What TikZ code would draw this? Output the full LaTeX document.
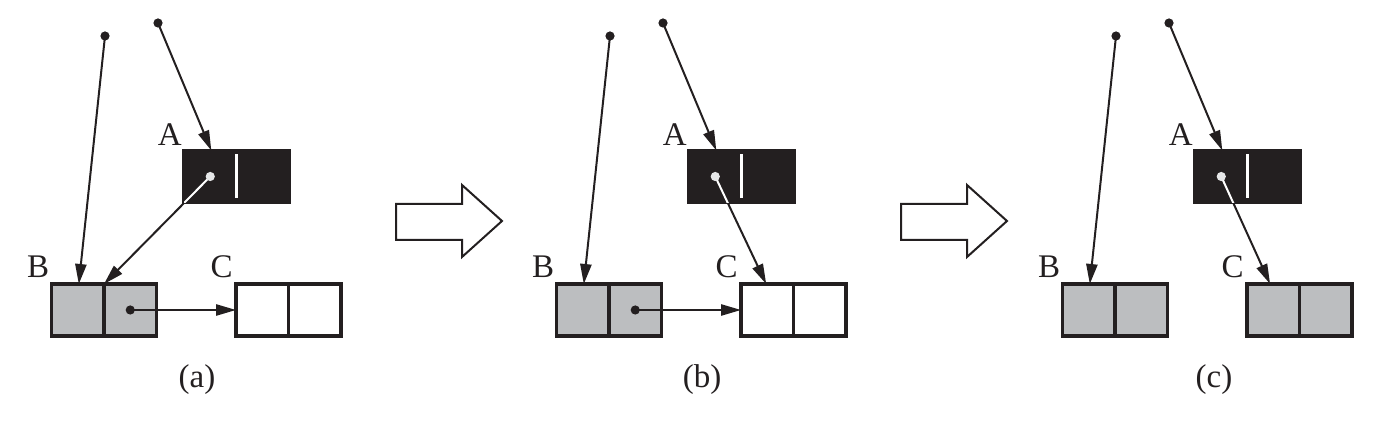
\documentclass[tikz,border=0pt]{standalone}
\usepackage{fontspec}
\setmainfont{Liberation Serif}
\usepackage{tikz}
\usetikzlibrary{arrows.meta,positioning,calc}
\definecolor{ink}{HTML}{231F20}
\definecolor{shade}{HTML}{BCBEC0}
\definecolor{pale}{HTML}{E6E7E8}
\tikzset{
  cell/.style={draw=ink, line width=1.8pt, minimum width=52.5pt, minimum height=26pt, inner sep=0pt, outer sep=0pt},
  pin/.style={circle, fill=ink, inner sep=0pt, minimum size=4.6pt},
  lbl/.style={inner sep=0pt, text=ink, font=\fontsize{16.5}{19}\selectfont},
  ptr/.style={draw=ink, line width=1pt, -{Triangle[length=10pt,width=5.6pt]}},
  hollow/.style={draw=ink, line width=1pt, fill=white},
}

\begin{document}
\begin{tikzpicture}[x=0.5pt,y=-0.5pt]
    \useasboundingbox (0,0) rectangle (1376,426);
    % the three stages
    \foreach \k/\dx/\cfill/\cx in {a/0/white/197, b/505/white/197, c/1011/shade/203}{
        \begin{scope}[shift={(\dx,0)}]
            \node[cell, fill=ink] (A\k) at (236.5,176.5) {};
            \node[cell, fill=shade] (B\k) at (104,310) {};
            \node[cell, fill=\cfill] (C\k) at (288.5,310) {};
            \draw[ink, line width=1.6pt] (B\k.north) -- (B\k.south);
            \draw[ink, line width=1.6pt] (C\k.north) -- (C\k.south);
            \draw[white, line width=1.1pt] ([yshift=-2pt]A\k.north) -- ([yshift=2pt]A\k.south);
            \node[lbl, above left=2.5pt and 1pt of A\k.north west] (la\k) {A};
            \node[lbl, above left=3pt and 1pt of B\k.north west] (lb\k) {B};
            \node[lbl, above left=3pt and 1.5pt of C\k.north west] (lc\k) {C};
            \node[pin] (p\k) at (105,36) {};
            \node[pin] (q\k) at (158,23) {};
            \draw[ptr] (p\k.center) -- ($(B\k.north west)!0.26!(B\k.north east)$);
            \draw[ptr] (q\k.center) -- ($(A\k.north west)!0.26!(A\k.north east)$);
            \coordinate (w\k) at ($(A\k.center)!0.5!(A\k.west)$);
            \node[lbl] (cap\k) at (\cx,380) {(\k)};
        \end{scope}
    }
    % pointer out of A
    \draw[ptr] (wa) -- (Ba.north);
    \draw[ptr] (wb) -- ($(Cb.north west)!0.24!(Cb.north east)$);
    \draw[ptr] (wc) -- ($(Cc.north west)!0.22!(Cc.north east)$);
    \begin{scope}
        \clip (Aa.north west) rectangle (Aa.south east);
        \draw[white, line width=1pt] (wa) -- (Ba.north);
    \end{scope}
    \begin{scope}
        \clip (Ab.north west) rectangle (Ab.south east);
        \draw[white, line width=1pt] (wb) -- ($(Cb.north west)!0.24!(Cb.north east)$);
    \end{scope}
    \begin{scope}
        \clip (Ac.north west) rectangle (Ac.south east);
        \draw[white, line width=1pt] (wc) -- ($(Cc.north west)!0.22!(Cc.north east)$);
    \end{scope}
    \foreach \k in {a,b,c}
        \node[pin, fill=pale] at (w\k) {};
    % pointer out of B
    \foreach \k in {a,b}{
        \coordinate (d\k) at ($(B\k.center)!0.5!(B\k.east)$);
        \draw[ptr] (d\k) -- (C\k.west);
        \node[pin] at (d\k) {};
    }
    % big hollow arrows
    \foreach \dx in {0,505}
        \draw[hollow, shift={(\dx,0)}] (396,204) -- (462,204) -- (462,185) -- (502,221)
            -- (462,257) -- (462,240) -- (396,240) -- cycle;
\end{tikzpicture}
\end{document}
